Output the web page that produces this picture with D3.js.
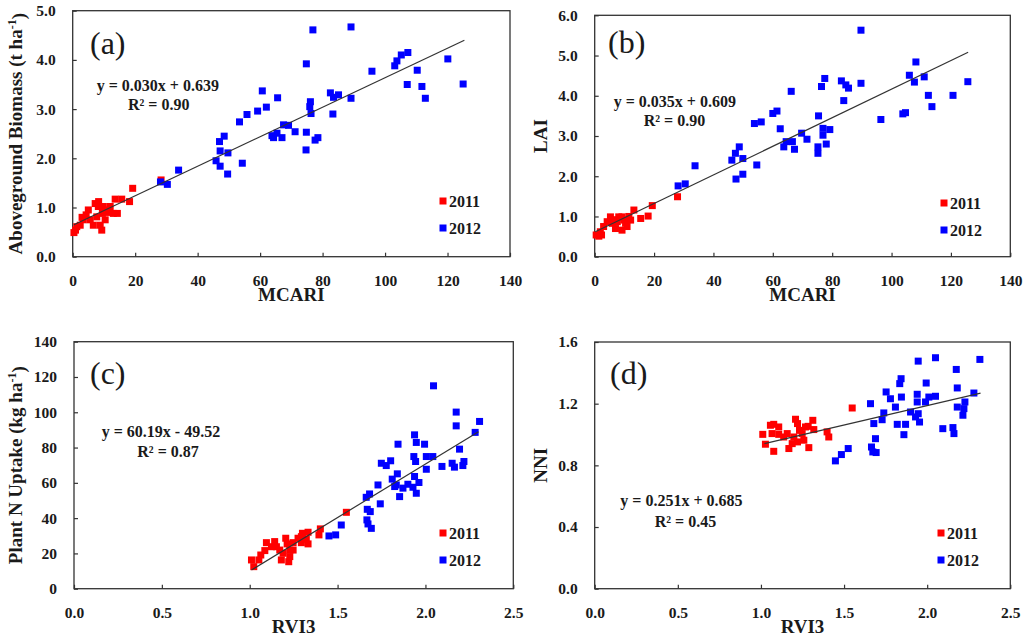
<!DOCTYPE html>
<html>
<head>
<meta charset="utf-8"/>
<title>MCARI / RVI3 scatter panels</title>
<style>
  body { margin: 0; background: #fff; }
  svg text { font-family: "Liberation Serif", "Times New Roman", serif; font-weight: bold; fill: #1a1a1a; }
  .tick line { stroke: #333; stroke-width: 1.2; }
</style>
</head>
<body>
<svg id="chart" width="1024" height="639"></svg>
<script src="https://d3js.org/d3.v7.min.js"></script>
<script>
// (a) MCARI vs aboveground biomass
const a2011 = [[19.2,1.39],[18.2,1.12],[15.7,1.17],[13.6,1.17],[13.0,0.88],[14.3,0.88],[12.0,1.02],[9.8,1.02],
  [8.2,1.02],[9.3,0.54],[10.4,0.75],[7.7,0.81],[5.0,0.95],[4.3,0.85],[3.4,0.75],[2.4,0.64],[0.9,0.54],[0.4,0.49],
  [1.3,0.61],[6.6,0.64],[8.8,0.64],[9.5,0.88],[5.6,0.75],[28.3,1.56],[8.3,1.12],[10.7,0.95],[7.2,1.08],[11.0,0.90],[3.0,0.80]];
const a2012 = [[89.1,4.67],[76.9,4.61],[74.8,3.92],[95.8,3.77],[107.3,4.15],[105.2,4.10],[103.8,3.98],[103.1,3.88],
  [120.1,4.02],[110.3,3.79],[107.1,3.50],[111.8,3.46],[112.9,3.22],[125.0,3.51],[82.5,3.33],[83.5,3.24],[85.1,3.29],
  [89.1,3.22],[83.3,2.90],[76.1,3.15],[75.9,3.05],[76.3,2.91],[74.8,2.53],[74.7,2.17],[78.5,2.42],[77.6,2.37],
  [60.7,3.37],[59.2,2.96],[62.0,3.04],[55.8,2.89],[53.4,2.74],[65.6,3.23],[63.8,2.46],[64.3,2.42],[65.4,2.51],
  [67.0,2.42],[67.5,2.68],[69.1,2.67],[71.2,2.54],[48.5,2.45],[47.0,2.34],[47.2,2.15],[49.7,2.11],[45.9,1.95],
  [47.2,1.84],[49.6,1.68],[54.3,1.90],[33.9,1.76],[30.3,1.47],[28.1,1.52]];
const aTrend = [[0.4,0.65],[125.4,4.40]];

// (b) MCARI vs LAI
const b2011 = [[27.9,1.49],[19.4,1.27],[18.0,1.01],[15.5,0.95],[13.2,1.16],[12.1,0.91],[10.4,0.83],[9.2,0.99],
  [8.1,0.99],[5.3,0.99],[4.2,0.87],[3.0,0.75],[1.9,0.62],[0.5,0.54],[1.4,0.51],[7.0,0.70],[9.2,0.66],[10.9,0.75],
  [5.9,0.83],[7.6,0.87],[2.3,0.54],[9.8,0.91],[11.5,1.00],[6.5,0.92]];
const b2012 = [[89.7,5.63],[108.2,4.84],[106.0,4.51],[111.0,4.47],[107.7,4.34],[125.7,4.35],[112.4,4.01],[120.7,4.01],
  [113.6,3.73],[103.8,3.55],[104.7,3.58],[96.4,3.41],[89.7,4.31],[83.1,4.37],[84.6,4.27],[85.5,4.19],[83.9,3.88],
  [77.5,4.43],[76.4,4.23],[66.2,4.11],[60.0,3.56],[61.4,3.62],[53.8,3.31],[56.1,3.35],[62.5,3.18],[75.4,3.50],
  [76.9,3.19],[79.2,3.16],[76.9,3.02],[78.0,2.80],[75.2,2.73],[75.2,2.57],[69.7,3.07],[71.5,2.92],[67.3,2.67],
  [64.5,2.86],[63.7,2.73],[66.6,2.86],[48.7,2.73],[47.4,2.57],[46.2,2.40],[49.9,2.44],[47.6,1.93],[49.9,2.05],
  [54.6,2.28],[33.8,2.26],[30.5,1.81],[28.1,1.76]];
const bTrend = [[0.2,0.62],[125.8,5.08]];

// (c) RVI3 vs plant N uptake
const c2011 = [[1.550,43.3],[1.402,33.9],[1.394,30.5],[1.332,32.0],[1.300,31.4],[1.322,28.0],[1.332,25.4],[1.294,26.1],
  [1.275,28.6],[1.247,26.1],[1.205,28.6],[1.213,25.4],[1.228,21.9],[1.228,18.2],[1.222,15.3],[1.190,20.1],
  [1.171,21.9],[1.142,26.7],[1.124,23.8],[1.095,26.1],[1.086,21.6],[1.063,19.1],[1.052,16.3],[1.010,16.3],
  [1.023,12.5],[1.152,23.8],[1.180,16.3],[1.247,21.9],[1.294,29.5]];
const c2012 = [[2.046,115.0],[2.175,100.1],[2.175,92.3],[2.308,94.8],[2.283,88.6],[1.938,87.2],[1.844,81.9],[1.948,82.9],
  [1.995,81.9],[2.194,79.1],[1.934,74.9],[2.005,74.9],[2.042,74.9],[1.944,72.1],[2.219,72.1],[1.749,71.1],
  [1.802,72.5],[1.777,69.8],[2.094,69.3],[2.152,71.1],[2.165,68.9],[2.213,69.8],[2.005,67.7],[1.840,65.1],
  [1.811,62.1],[1.938,63.6],[1.834,58.8],[1.872,57.0],[1.900,59.2],[1.963,60.2],[1.929,57.5],[1.853,52.2],
  [1.948,54.1],[1.730,58.8],[1.663,51.8],[1.682,53.7],[1.743,48.1],[1.669,45.0],[1.686,43.7],[1.667,39.0],
  [1.673,36.7],[1.692,34.2],[1.521,36.1],[1.489,30.5],[1.451,29.9],[1.825,57.9]];
const cTrend = [[1.010,10.6],[2.302,89.0]];

// (d) RVI3 vs NNI
const d2011 = [[1.549,1.172],[1.408,0.984],[1.398,1.017],[1.312,1.092],[1.284,1.053],[1.318,1.032],[1.288,0.915],
  [1.248,1.006],[1.208,1.099],[1.220,1.071],[1.232,1.027],[1.198,0.984],[1.220,0.952],[1.188,0.941],[1.168,0.909],
  [1.158,1.006],[1.137,0.984],[1.107,1.049],[1.077,1.066],[1.057,1.060],[1.067,1.006],[1.011,1.001],[1.027,0.937],
  [1.077,0.891],[1.258,0.963],[1.268,1.049],[1.107,1.001]];
const d2012 = [[2.050,1.498],[1.946,1.476],[2.317,1.487],[2.175,1.422],[1.843,1.362],[1.835,1.330],[1.994,1.334],
  [2.181,1.302],[2.281,1.269],[1.753,1.276],[1.779,1.232],[1.845,1.243],[1.940,1.261],[2.010,1.243],[2.050,1.248],
  [1.940,1.211],[1.990,1.211],[1.659,1.200],[1.809,1.178],[2.181,1.178],[2.227,1.211],[2.221,1.168],[2.215,1.125],
  [1.739,1.140],[1.729,1.096],[1.900,1.146],[1.930,1.114],[1.954,1.081],[1.946,1.135],[1.820,1.066],[1.870,1.066],
  [1.860,0.999],[1.679,1.071],[2.094,1.038],[2.155,1.045],[2.161,1.006],[1.689,0.973],[1.665,0.919],[1.673,0.887],
  [1.693,0.883],[1.525,0.909],[1.484,0.870],[1.448,0.829]];
const dTrend = [[1.021,0.941],[2.321,1.268]];

const mcariTicks = [0, 20, 40, 60, 80, 100, 120, 140];
const rviTicks = [0, 0.5, 1.0, 1.5, 2.0, 2.5];
const years = ["2011", "2012"];
const colors = ["#ff0000", "#0000ff"];

const svg = d3.select("#chart");

const panels = [
  { tag: "(a)", d11: a2011, d12: a2012, trend: aTrend,
    xDom: [0, 140], yDom: [0, 5], xTicks: mcariTicks, yTicks: [0, 1, 2, 3, 4, 5], xFmt: "d", yFmt: ".1f",
    box: [72.7, 10.7, 510, 256.7], xTitle: "MCARI", yTitle: ["Aboveground Biomass (t ha", "-1", ")"],
    eq: ["y = 0.030x + 0.639", "R² = 0.90"], eqPos: [96.7, 85, 128, 104],
    tagPos: [90, 43], legPos: [443, 201], yTitleX: 15 },
  { tag: "(b)", d11: b2011, d12: b2012, trend: bTrend,
    xDom: [0, 140], yDom: [0, 6], xTicks: mcariTicks, yTicks: [0, 1, 2, 3, 4, 5, 6], xFmt: "d", yFmt: ".1f",
    box: [594.7, 15.3, 1010.3, 256.7], xTitle: "MCARI", yTitle: ["LAI"],
    eq: ["y = 0.035x + 0.609", "R² = 0.90"], eqPos: [613.7, 101.7, 643.7, 120],
    tagPos: [608, 42], legPos: [944, 203], yTitleX: 540 },
  { tag: "(c)", d11: c2011, d12: c2012, trend: cTrend,
    xDom: [0, 2.5], yDom: [0, 140], xTicks: rviTicks, yTicks: [0, 20, 40, 60, 80, 100, 120, 140], xFmt: ".1f", yFmt: "d",
    box: [74, 341.7, 513.3, 588.7], xTitle: "RVI3", yTitle: ["Plant N Uptake (kg ha", "-1", ")"],
    eq: ["y = 60.19x - 49.52", "R² = 0.87"], eqPos: [101.7, 431, 137.3, 451.7],
    tagPos: [90, 373], legPos: [443, 533], yTitleX: 15 },
  { tag: "(d)", d11: d2011, d12: d2012, trend: dTrend,
    xDom: [0, 2.5], yDom: [0, 1.6], xTicks: rviTicks, yTicks: [0, 0.4, 0.8, 1.2, 1.6], xFmt: ".1f", yFmt: ".1f",
    box: [594.7, 342, 1010.3, 588.7], xTitle: "RVI3", yTitle: ["NNI"],
    eq: ["y = 0.251x + 0.685", "R² = 0.45"], eqPos: [620.3, 500, 654.7, 521.7],
    tagPos: [610, 373], legPos: [941, 533], yTitleX: 540 }
];

panels.forEach(function(p) {
  const [x0, y0, x1, y1] = p.box;
  const x = d3.scaleLinear().domain(p.xDom).range([x0, x1]);
  const y = d3.scaleLinear().domain(p.yDom).range([y1, y0]);
  const g = svg.append("g");

  g.append("g")
    .attr("transform", "translate(0," + y1 + ")")
    .call(d3.axisBottom(x).tickValues(p.xTicks).tickFormat(d3.format(p.xFmt))
      .tickSizeInner(-4).tickSizeOuter(0).tickPadding(18))
    .call(ax => ax.select(".domain").remove())
    .selectAll("text").style("font-size", "15.5px").style("font-family", null);

  g.append("g")
    .attr("transform", "translate(" + x0 + ",0)")
    .call(d3.axisLeft(y).tickValues(p.yTicks).tickFormat(d3.format(p.yFmt))
      .tickSizeInner(-4).tickSizeOuter(0).tickPadding(17))
    .call(ax => ax.select(".domain").remove())
    .selectAll("text").style("font-size", "15.5px").style("font-family", null);

  g.append("rect")
    .attr("x", x0).attr("y", y0)
    .attr("width", x1 - x0).attr("height", y1 - y0)
    .attr("fill", "none").attr("stroke", "#333").attr("stroke-width", 1.3);

  const s = 7;
  [p.d11, p.d12].forEach(function(pts, i) {
    g.selectAll(null).data(pts).enter().append("rect")
      .attr("x", d => x(d[0]) - s / 2)
      .attr("y", d => y(d[1]) - s / 2)
      .attr("width", s).attr("height", s)
      .attr("fill", colors[i]);
  });

  g.append("line")
    .attr("x1", x(p.trend[0][0])).attr("y1", y(p.trend[0][1]))
    .attr("x2", x(p.trend[1][0])).attr("y2", y(p.trend[1][1]))
    .attr("stroke", "#333").attr("stroke-width", 1.2);

  // panel tag
  g.append("text")
    .attr("x", p.tagPos[0]).attr("y", p.tagPos[1])
    .attr("dy", "0.35em")
    .style("font-size", "32px").style("font-weight", "normal")
    .text(p.tag);

  // equation
  g.append("text").attr("x", p.eqPos[0]).attr("y", p.eqPos[1]).attr("dy", "0.35em")
    .style("font-size", "16px").text(p.eq[0]);
  g.append("text").attr("x", p.eqPos[2]).attr("y", p.eqPos[3]).attr("dy", "0.35em")
    .style("font-size", "16px").text(p.eq[1]);

  // legend
  years.forEach(function(yr, i) {
    const ly = p.legPos[1] + i * 27;
    g.append("rect").attr("x", p.legPos[0] - 3.5).attr("y", ly - 3.5)
      .attr("width", 7).attr("height", 7).attr("fill", colors[i]);
    g.append("text").attr("x", p.legPos[0] + 6).attr("y", ly).attr("dy", "0.35em")
      .style("font-size", "16px").text(yr);
  });

  // axis titles
  g.append("text")
    .attr("x", (x0 + x1) / 2).attr("y", y1 + 38)
    .attr("text-anchor", "middle").attr("dy", "0.35em")
    .style("font-size", "19px").text(p.xTitle);

  const yt = g.append("text")
    .attr("transform", "translate(" + p.yTitleX + "," + ((y0 + y1) / 2) + ") rotate(-90)")
    .attr("text-anchor", "middle").attr("dy", "0.35em")
    .style("font-size", "19px");
  yt.append("tspan").text(p.yTitle[0]);
  if (p.yTitle.length > 1) {
    yt.append("tspan").attr("dy", "-0.45em").style("font-size", "12px").text(p.yTitle[1]);
    yt.append("tspan").attr("dy", "0.45em").text(p.yTitle[2]);
  }
});
</script>
</body>
</html>
